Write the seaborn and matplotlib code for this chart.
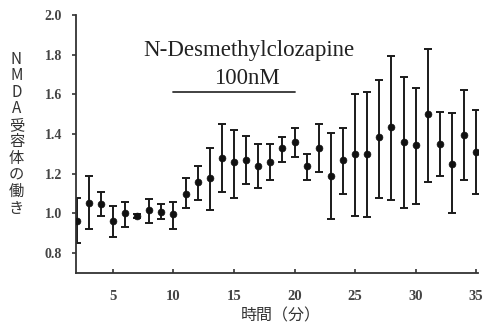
import matplotlib
matplotlib.use("Agg")
import matplotlib.pyplot as plt
import seaborn as sns
import numpy as np
import pandas as pd

minutes = list(range(2, 36))
mean = [0.96, 1.055, 1.05, 0.96, 1.0, 0.985, 1.015, 1.005, 0.995, 1.10,
        1.16, 1.18, 1.28, 1.26, 1.27, 1.24, 1.26, 1.33, 1.36, 1.24,
        1.33, 1.19, 1.27, 1.30, 1.30, 1.385, 1.435, 1.36, 1.345, 1.50,
        1.35, 1.25, 1.395, 1.31]
upper = [1.08, 1.19, 1.11, 1.04, 1.06, 0.995, 1.075, 1.05, 1.06, 1.18,
         1.24, 1.33, 1.45, 1.42, 1.39, 1.35, 1.35, 1.385, 1.43, 1.30,
         1.45, 1.405, 1.43, 1.60, 1.61, 1.67, 1.795, 1.69, 1.63, 1.83,
         1.51, 1.505, 1.62, 1.52]
lower = [0.85, 0.92, 0.985, 0.88, 0.93, 0.975, 0.95, 0.97, 0.92, 1.03,
         1.07, 1.015, 1.11, 1.08, 1.15, 1.13, 1.17, 1.26, 1.285, 1.17,
         1.21, 0.97, 1.10, 0.985, 0.98, 1.08, 1.07, 1.03, 1.05, 1.16,
         1.19, 1.00, 1.17, 1.10]
xticks = [5, 10, 15, 20, 25, 30, 35]
yticks = [0.8, 1.0, 1.2, 1.4, 1.6, 1.8, 2.0]
drug_label = "N-Desmethylclozapine"
dose_label = "100nM"
drug_start, drug_end = 10, 20
ylabel = "NMDA受容体の働き"
xlabel = "時間（分）"

df = pd.DataFrame({"minute": minutes, "mean": mean, "upper": upper, "lower": lower})

sns.set_style("ticks")
plt.rcParams["font.family"] = ["Liberation Serif", "DejaVu Serif"]
cjk = ["Noto Sans CJK JP", "DejaVu Sans"]

fig = plt.figure(figsize=(4.84, 3.27), dpi=100)
ax = fig.add_axes([76 / 484, 54 / 327, (478 - 76) / 484, (312 - 54) / 327])

m = np.array(mean)
yerr = np.vstack([m - np.array(lower), np.array(upper) - m])
ax.errorbar(df["minute"], df["mean"], yerr=yerr, fmt="none", ecolor="#1a1a1a",
            elinewidth=1.4, capsize=2.6, capthick=1.4, zorder=2)
sns.scatterplot(data=df, x="minute", y="mean", ax=ax, color="#111111", s=24,
                edgecolor="#111111", linewidth=0.5, zorder=3, legend=False)

ax.set_xlim(1.95, 35.15)
ax.set_ylim(0.7, 2.0)
ax.set_xticks(xticks)
ax.set_yticks(yticks)
ax.set_yticklabels([f"{v:.1f}" for v in yticks])
ax.tick_params(axis="x", direction="in", length=3, width=1.2, colors="#333333",
               labelcolor="#444444", labelsize=10.5, pad=12)
ax.tick_params(axis="y", direction="out", length=3, width=1.2, colors="#333333",
               labelcolor="#444444", labelsize=10, pad=7)
for lab in ax.get_xticklabels() + ax.get_yticklabels():
    lab.set_fontweight("bold")
for s in ["left", "bottom"]:
    ax.spines[s].set_linewidth(1.3)
    ax.spines[s].set_color("#333333")
sns.despine(ax=ax)

ax.text(16.25, 1.82, drug_label, ha="center", va="center", fontsize=16.5, color="#222222")
ax.text(16.1, 1.68, dose_label, ha="center", va="center", fontsize=16.5, color="#222222")
ax.plot([drug_start, drug_end], [1.613, 1.613], color="#333333", lw=1.3)

ax.set_xlabel(xlabel, family=cjk, fontsize=11.5, color="#333333", labelpad=3)
ax.xaxis.set_label_coords((281 - 76) / (478 - 76), -0.135)
ax.set_ylabel("")
n = len(ylabel)
top_c, bot_c = 59, 208
for i, ch in enumerate(ylabel):
    yc = top_c + (bot_c - top_c) * i / (n - 1)
    fig.text(16.5 / 484, 1 - yc / 327, ch, family=cjk, fontsize=11,
             ha="center", va="center", color="#333333")

fig.savefig("out.png", dpi=100)
